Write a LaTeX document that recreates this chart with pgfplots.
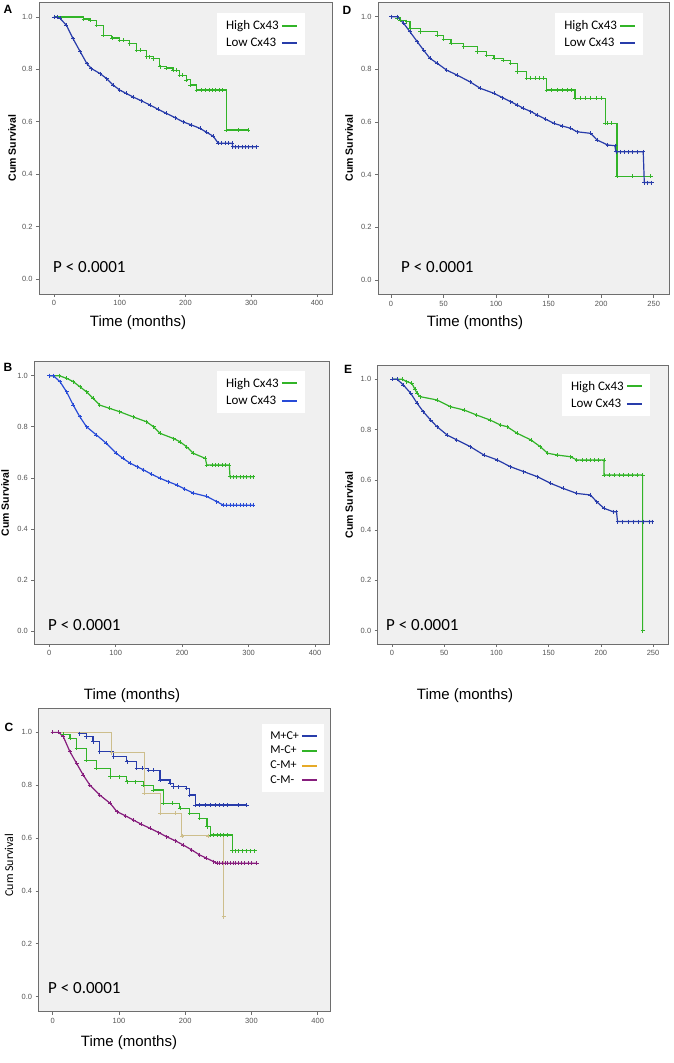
\documentclass[border=0pt]{standalone}
\usepackage{fontspec}
\setmainfont{Liberation Sans}
\newfontfamily\calfont{Carlito}
\usepackage{pgfplots}
\pgfplotsset{compat=1.18}

\definecolor{bg}{RGB}{240,240,240}
\definecolor{framegray}{RGB}{110,110,110}
\definecolor{ticklab}{RGB}{85,85,85}
\definecolor{kmgreen}{RGB}{50,180,40}
\definecolor{kmblue}{RGB}{40,60,170}
\definecolor{kmblueB}{RGB}{40,75,215}
\definecolor{kmpurple}{RGB}{135,30,125}
\definecolor{kmtan}{RGB}{205,190,140}
\definecolor{kmorange}{RGB}{230,170,40}

\pgfplotsset{
  km/.style={
    scale only axis,
    axis background/.style={fill=bg},
    axis line style={framegray, line width=0.8pt},
    tick pos=left, tick align=outside, major tick length=3pt,
    tick style={framegray, line width=0.6pt},
    ytick={0,0.2,0.4,0.6,0.8,1},
    yticklabel style={/pgf/number format/.cd, fixed, fixed zerofill, precision=1},
    ticklabel style={font=\fontsize{7.5}{8}\selectfont, color=ticklab},
    /pgf/number format/assume math mode=true,
    legend plot pos=right, legend cell align=left,
    legend style={draw=none, fill=white, font=\calfont\fontsize{13}{14}\selectfont,
      inner xsep=7pt, inner ysep=5pt, row sep=3pt},
    legend image code/.code={\draw[##1, mark=none, line width=2pt] (0pt,0pt) -- (15pt,0pt);},
  },
  kmline/.style={const plot, line width=1.2pt, mark=+, mark size=2pt,
    mark options={line width=0.7pt}},
  kmsharp/.style={sharp plot, line width=1.2pt, mark=+, mark size=2pt,
    mark options={line width=0.7pt}},
}

% ---- panel A ----
\pgfplotstableread{
t s
0 1.000
45 0.992
55 0.987
65 0.968
75 0.930
88 0.920
100 0.911
105 0.911
115 0.898
126 0.873
131 0.873
141 0.848
145 0.848
151 0.841
161 0.810
171 0.805
181 0.797
186 0.797
191 0.778
195 0.778
201 0.760
207 0.740
217 0.721
224 0.721
230 0.721
236 0.721
241 0.721
246 0.721
251 0.721
256 0.721
262 0.569
280 0.569
295 0.569
}\aHigh
\pgfplotstableread{
t s
0 1.000
5 1.000
9 0.995
19 0.968
29 0.917
40 0.867
50 0.822
57 0.803
70 0.784
80 0.765
90 0.740
100 0.721
110 0.708
120 0.695
133 0.680
146 0.664
158 0.648
171 0.632
184 0.616
196 0.600
209 0.588
222 0.575
232 0.560
242 0.545
250 0.518
255 0.518
260 0.518
265 0.518
271 0.518
272 0.505
276 0.505
281 0.505
286 0.505
291 0.505
296 0.505
301 0.505
308 0.505
}\aLow
% ---- panel D ----
\pgfplotstableread{
t s
0 1.000
6 0.995
9 0.987
15 0.981
18 0.956
28 0.943
44 0.930
50 0.915
57 0.899
69 0.886
82 0.867
91 0.854
98 0.842
107 0.835
114 0.823
120 0.791
129 0.766
133 0.766
137 0.766
141 0.766
145 0.766
148 0.722
153 0.722
158 0.722
163 0.722
168 0.722
172 0.722
175 0.690
180 0.690
185 0.690
190 0.690
195 0.690
200 0.690
204 0.595
206 0.595
210 0.595
215 0.394
230 0.394
247 0.394
}\dHigh
\pgfplotstableread{
t s
0 1.000
6 1.000
12 0.975
18 0.943
25 0.905
31 0.873
37 0.842
44 0.823
53 0.797
63 0.778
75 0.753
85 0.728
98 0.709
106 0.693
114 0.677
120 0.665
126 0.652
133 0.640
139 0.627
147 0.611
155 0.595
163 0.585
171 0.576
177 0.563
190 0.557
196 0.532
206 0.513
213 0.510
214 0.487
218 0.487
222 0.487
226 0.487
230 0.487
234 0.487
240 0.487
241 0.370
244 0.370
248 0.370
}\dLow
% ---- panel B ----
\pgfplotstableread{
t s
0 1.000
15 1.000
26 0.990
36 0.977
46 0.957
56 0.937
66 0.911
76 0.885
91 0.872
106 0.859
126 0.839
146 0.820
157 0.800
167 0.774
187 0.754
197 0.741
207 0.721
217 0.696
235 0.676
237 0.650
245 0.650
250 0.650
255 0.650
260 0.650
265 0.650
271 0.650
272 0.604
277 0.604
282 0.604
287 0.604
292 0.604
297 0.604
302 0.604
307 0.604
}\bHigh
\pgfplotstableread{
t s
0 1.000
6 1.000
16 0.977
26 0.937
36 0.885
46 0.839
56 0.800
71 0.768
86 0.735
101 0.696
111 0.676
122 0.657
132 0.644
142 0.631
154 0.614
167 0.598
179 0.585
192 0.572
204 0.556
217 0.540
237 0.527
252 0.507
262 0.493
267 0.493
272 0.493
277 0.493
282 0.493
287 0.493
292 0.493
297 0.493
302 0.493
307 0.493
}\bLow
% ---- panel E ----
\pgfplotstableread{
t s
0 1.000
10 1.000
14 0.991
19 0.984
22 0.960
24 0.944
27 0.931
43 0.918
56 0.891
69 0.878
81 0.858
94 0.838
104 0.818
110 0.812
120 0.785
133 0.759
142 0.732
149 0.706
158 0.699
171 0.692
177 0.679
182 0.679
186 0.679
190 0.679
194 0.679
198 0.679
203 0.679
203 0.619
208 0.619
213 0.619
218 0.619
222 0.619
226 0.619
230 0.619
235 0.619
240 0.619
240 0.000
}\eHigh
\pgfplotstableread{
t s
0 1.000
5 1.000
11 0.977
18 0.944
24 0.905
30 0.871
37 0.838
43 0.812
53 0.778
62 0.759
75 0.732
88 0.699
101 0.679
113 0.653
126 0.633
139 0.613
152 0.586
164 0.566
177 0.546
190 0.540
196 0.513
203 0.487
212 0.473
215 0.473
216 0.434
221 0.434
226 0.434
231 0.434
236 0.434
241 0.434
246 0.434
249 0.434
}\eLow
% ---- panel C ----
\pgfplotstableread{
t s
0 1.000
41 0.995
51 0.984
61 0.965
71 0.927
92 0.908
112 0.889
127 0.864
135 0.864
145 0.857
152 0.857
162 0.820
177 0.807
182 0.794
190 0.794
202 0.788
207 0.763
215 0.725
222 0.725
230 0.725
238 0.725
245 0.725
252 0.725
258 0.725
264 0.725
280 0.725
293 0.725
}\cMpCp
\pgfplotstableread{
t s
0 1.000
16 0.992
26 0.977
36 0.939
51 0.895
66 0.864
87 0.832
100 0.832
112 0.813
125 0.813
137 0.800
152 0.782
167 0.731
180 0.731
192 0.712
207 0.694
222 0.675
233 0.643
238 0.612
243 0.612
248 0.612
253 0.612
258 0.612
263 0.612
271 0.552
276 0.552
281 0.552
286 0.552
292 0.552
298 0.552
305 0.552
}\cMmCp
\pgfplotstableread{
t s
0 1.000
89 0.923
138 0.769
162 0.694
185 0.694
195 0.608
235 0.608
258 0.303
}\cCmMp
\pgfplotstableread{
t s
0 1.000
9 1.000
16 0.984
26 0.927
36 0.883
46 0.839
56 0.801
71 0.763
87 0.731
97 0.700
110 0.684
122 0.668
134 0.652
147 0.637
160 0.621
172 0.605
185 0.590
197 0.574
210 0.555
222 0.536
232 0.524
243 0.511
248 0.505
252 0.505
256 0.505
260 0.505
264 0.505
268 0.505
272 0.505
276 0.505
280 0.505
285 0.505
290 0.505
295 0.505
300 0.505
308 0.505
}\cCmMm

\begin{document}
\begin{tikzpicture}
\useasboundingbox (0pt,0pt) rectangle (674pt,-1063pt);

% A
\begin{axis}[km, at={(39pt,-294pt)}, width=293pt, height=292pt,
  xmin=-22.8, xmax=422.8, ymin=-0.057, ymax=1.057, xtick={0,100,200,300,400},
  legend style={at={(0.607,0.962)}, anchor=north west}]
  \addplot[kmline, color=kmgreen] table[x=t, y=s] {\aHigh};
  \addlegendentry{High Cx43}
  \addplot[kmsharp, color=kmblue] table[x=t, y=s] {\aLow};
  \addlegendentry{Low Cx43}
\end{axis}

% D
\begin{axis}[km, at={(378pt,-294.7pt)}, width=291.3pt, height=292.7pt,
  xmin=-12.4, xmax=264.8, ymin=-0.056, ymax=1.056, xtick={0,50,100,150,200,250},
  legend style={at={(0.608,0.962)}, anchor=north west}]
  \addplot[kmline, color=kmgreen] table[x=t, y=s] {\dHigh};
  \addlegendentry{High Cx43}
  \addplot[kmsharp, color=kmblue] table[x=t, y=s] {\dLow};
  \addlegendentry{Low Cx43}
\end{axis}

% B
\begin{axis}[km, at={(34.3pt,-644pt)}, width=295pt, height=282.3pt,
  xmin=-22.6, xmax=421.5, ymin=-0.051, ymax=1.055, xtick={0,100,200,300,400},
  legend style={at={(0.619,0.967)}, anchor=north west}]
  \addplot[kmsharp, color=kmgreen] table[x=t, y=s] {\bHigh};
  \addlegendentry{High Cx43}
  \addplot[kmsharp, color=kmblueB] table[x=t, y=s] {\bLow};
  \addlegendentry{Low Cx43}
\end{axis}

% E
\begin{axis}[km, at={(377.7pt,-644pt)}, width=291pt, height=279pt,
  xmin=-13.7, xmax=265, ymin=-0.053, ymax=1.057, xtick={0,50,100,150,200,250},
  legend style={at={(0.633,0.968)}, anchor=north west}]
  \addplot[kmsharp, color=kmgreen] table[x=t, y=s] {\eHigh};
  \addlegendentry{High Cx43}
  \addplot[kmsharp, color=kmblue] table[x=t, y=s] {\eLow};
  \addlegendentry{Low Cx43}
\end{axis}

% C
\begin{axis}[km, at={(38.7pt,-1011.7pt)}, width=291.3pt, height=303.4pt,
  xmin=-21.1, xmax=418.6, ymin=-0.057, ymax=1.091, xtick={0,100,200,300,400},
  legend style={at={(0.767,0.948)}, anchor=north west,
    font=\calfont\fontsize{12}{13}\selectfont, row sep=1.5pt, inner xsep=6pt}]
  \addplot[kmline, color=kmblue] table[x=t, y=s] {\cMpCp};
  \addlegendentry{M+C+}
  \addplot[kmline, color=kmgreen] table[x=t, y=s] {\cMmCp};
  \addlegendentry{M-C+}
  \addplot[kmline, color=kmtan, line width=1pt, legend image code/.code={\draw[kmorange, line width=2pt] (0pt,0pt) -- (15pt,0pt);}] table[x=t, y=s] {\cCmMp};
  \addlegendentry{C-M+}
  \addplot[kmsharp, color=kmpurple] table[x=t, y=s] {\cCmMm};
  \addlegendentry{C-M-}
\end{axis}

% panel letters
\foreach \lab/\x/\y in {A/8/9, D/347/10, B/8/367, E/348/369, C/9/727}
  \node[font=\bfseries\fontsize{12}{12}\selectfont] at (\x pt,-\y pt) {\lab};
% y labels
\foreach \x/\y in {12/148, 349/148, 5/503, 349/505}
  \node[rotate=90, font=\bfseries\fontsize{10.5}{11}\selectfont] at (\x pt,-\y pt) {Cum Survival};
\node[rotate=90, font=\calfont\fontsize{12}{12}\selectfont] at (9pt,-865pt) {Cum Survival};
% x labels
\foreach \x/\y in {138/323, 475/323, 132/696, 465/696, 129/1043}
  \node[font=\fontsize{15}{15}\selectfont] at (\x pt,-\y pt) {Time (months)};
% p values
\foreach \x/\y in {53/267, 401/267, 48/625, 386/625, 48/988}
  \node[anchor=west, inner sep=0pt, font=\calfont\fontsize{17}{17}\selectfont] at (\x pt,-\y pt) {P < 0.0001};
\end{tikzpicture}
\end{document}
